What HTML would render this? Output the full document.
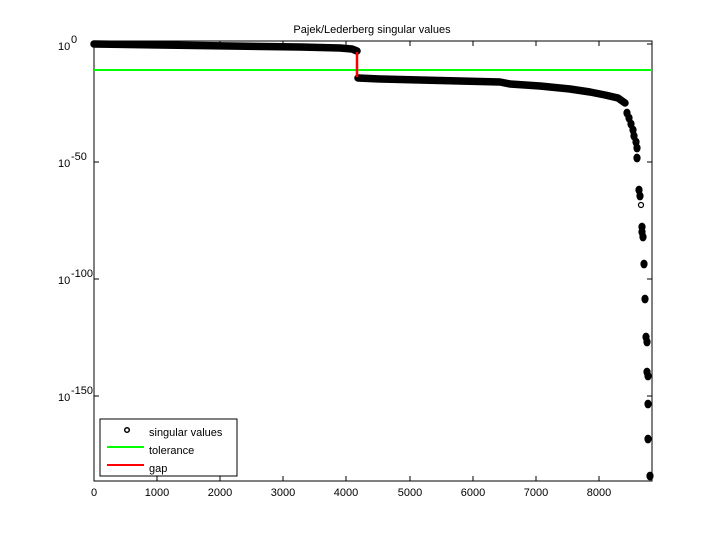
<!DOCTYPE html>
<html><head><meta charset="utf-8"><style>body{margin:0;background:#fff}svg{display:block}text{font-family:"Liberation Sans",sans-serif;font-size:11px;fill:#000}</style></head>
<body>
<svg width="720" height="540" viewBox="0 0 720 540">
<rect width="720" height="540" fill="#fff"/>
<text x="372" y="33" text-anchor="middle" font-size="12">Pajek/Lederberg singular values</text>
<rect x="94" y="41" width="558" height="440" fill="none" stroke="#000" stroke-width="1"/>
<g stroke="#000">
<line x1="157" y1="481" x2="157" y2="476"/><line x1="220" y1="481" x2="220" y2="476"/><line x1="283" y1="481" x2="283" y2="476"/><line x1="346" y1="481" x2="346" y2="476"/><line x1="410" y1="481" x2="410" y2="476"/><line x1="473" y1="481" x2="473" y2="476"/><line x1="536" y1="481" x2="536" y2="476"/><line x1="599" y1="481" x2="599" y2="476"/>
<line x1="157" y1="41" x2="157" y2="46"/><line x1="220" y1="41" x2="220" y2="46"/><line x1="283" y1="41" x2="283" y2="46"/><line x1="346" y1="41" x2="346" y2="46"/><line x1="410" y1="41" x2="410" y2="46"/><line x1="473" y1="41" x2="473" y2="46"/><line x1="536" y1="41" x2="536" y2="46"/><line x1="599" y1="41" x2="599" y2="46"/>
<line x1="94" y1="44" x2="99" y2="44"/><line x1="94" y1="162" x2="99" y2="162"/><line x1="94" y1="279" x2="99" y2="279"/><line x1="94" y1="396" x2="99" y2="396"/>
<line x1="652" y1="44" x2="647" y2="44"/><line x1="652" y1="162" x2="647" y2="162"/><line x1="652" y1="279" x2="647" y2="279"/><line x1="652" y1="396" x2="647" y2="396"/>
</g>
<g text-anchor="middle">
<text x="94" y="496">0</text><text x="157" y="496">1000</text><text x="220" y="496">2000</text><text x="283" y="496">3000</text><text x="346" y="496">4000</text><text x="410" y="496">5000</text><text x="473" y="496">6000</text><text x="536" y="496">7000</text><text x="599" y="496">8000</text>
</g>
<text x="58" y="50">10</text><text x="71" y="43" font-size="9">0</text>
<text x="58" y="167">10</text><text x="71" y="160" font-size="9">-50</text>
<text x="58" y="284">10</text><text x="71" y="277" font-size="9">-100</text>
<text x="58" y="401">10</text><text x="71" y="394" font-size="9">-150</text>
<line x1="94" y1="70" x2="652" y2="70" stroke="#00ff00" stroke-width="2"/>
<polyline fill="none" stroke="#000" stroke-width="7.5" stroke-linecap="round" stroke-linejoin="round" points="94,44 160,45 230,46 300,47 340,48 352,49 357,51"/>
<polyline fill="none" stroke="#000" stroke-width="7.5" stroke-linecap="round" stroke-linejoin="round" points="358,78 380,79 420,80 460,81 500,82 510,84 540,86 570,89 590,92 605,95 618,98 625,103"/>
<g fill="#000">
<ellipse cx="627" cy="113" rx="3.6" ry="4.4"/><ellipse cx="629" cy="118" rx="3.6" ry="4.4"/><ellipse cx="631" cy="124" rx="3.6" ry="4.4"/><ellipse cx="633" cy="130" rx="3.6" ry="4.4"/><ellipse cx="634" cy="136" rx="3.6" ry="4.4"/><ellipse cx="636" cy="142" rx="3.6" ry="4.4"/><ellipse cx="637" cy="148" rx="3.6" ry="4.4"/><ellipse cx="637" cy="158" rx="3.6" ry="4.4"/>
<ellipse cx="639" cy="190" rx="3.6" ry="4.4"/><ellipse cx="640" cy="196" rx="3.6" ry="4.4"/><ellipse cx="642" cy="227" rx="3.6" ry="4.4"/><ellipse cx="642" cy="232" rx="3.6" ry="4.4"/><ellipse cx="643" cy="237" rx="3.6" ry="4.4"/>
<ellipse cx="644" cy="264" rx="3.6" ry="4.4"/><ellipse cx="645" cy="299" rx="3.6" ry="4.4"/><ellipse cx="646" cy="337" rx="3.6" ry="4.4"/><ellipse cx="647" cy="342" rx="3.6" ry="4.4"/><ellipse cx="647" cy="372" rx="3.6" ry="4.4"/><ellipse cx="648" cy="376" rx="3.6" ry="4.4"/><ellipse cx="648" cy="404" rx="3.6" ry="4.4"/><ellipse cx="648" cy="439" rx="3.6" ry="4.4"/><ellipse cx="650" cy="476" rx="3.6" ry="4.4"/>
</g>
<circle cx="641" cy="205" r="2.5" fill="#fff" stroke="#000" stroke-width="1.2"/>
<line x1="357" y1="52" x2="357" y2="77" stroke="#ff0000" stroke-width="2.5"/>
<rect x="100" y="419" width="137" height="57" fill="#fff" stroke="#000"/>
<circle cx="127" cy="430" r="2.3" fill="#fff" stroke="#000" stroke-width="1.5"/>
<text x="149" y="436">singular values</text>
<line x1="107" y1="447" x2="144" y2="447" stroke="#00ff00" stroke-width="2"/>
<text x="149" y="454">tolerance</text>
<line x1="107" y1="465" x2="144" y2="465" stroke="#ff0000" stroke-width="2"/>
<text x="149" y="472">gap</text>
</svg>
</body></html>
